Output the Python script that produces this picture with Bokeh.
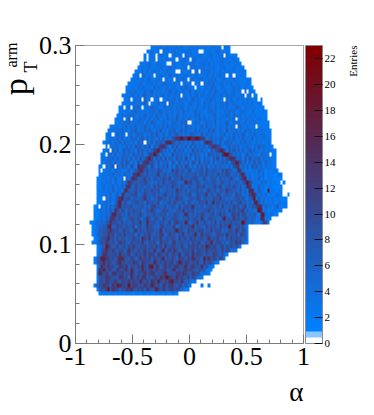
from bokeh.plotting import figure
from bokeh.models import (LinearColorMapper, ColorBar, FixedTicker, Label)
from bokeh.embed import file_html
from bokeh.resources import INLINE
import numpy as np

# ---- tick data
x_ticks = [-1, -0.5, 0, 0.5, 1]
x_labels = ["-1", "-0.5", "0", "0.5", "1"]
x_minor = [-0.9, -0.8, -0.7, -0.6, -0.4, -0.3, -0.2, -0.1, 0.1, 0.2, 0.3, 0.4, 0.6, 0.7, 0.8, 0.9]
y_ticks = [0, 0.1, 0.2, 0.3]
y_labels = ["0", "0.1", "0.2", "0.3"]
y_minor = [0.02, 0.04, 0.06, 0.08, 0.12, 0.14, 0.16, 0.18, 0.22, 0.24, 0.26, 0.28]
z_ticks = [0, 2, 4, 6, 8, 10, 12, 14, 16, 18, 20, 22]
z_max = 23.03

# ---- histogram: 100 x 75 bins, rows listed from the top (row 74) to row 12
row_top = 74
first_bin = [33,31,30,30,28,27,26,25,24,23,22,22,20,21,20,19,19,18,17,17,15,14,13,13,12,13,12,11,11,11,10,10,10,
             9,9,9,9,9,9,9,8,8,8,8,6,7,7,7,8,7,9,9,9,8,8,9,9,9,9,9,8,9,10]
last_bin = [67,69,70,71,72,73,74,74,76,76,77,78,79,81,81,82,83,83,83,84,84,85,85,85,85,86,87,87,87,87,87,88,90,
            90,91,90,90,93,92,92,92,90,88,85,84,75,75,75,75,75,72,70,66,65,62,62,59,58,55,52,50,49,44]
# the upper rows (down to row 44) are typed one count low, these offsets put it back
row_offset = [1] * 31 + [0] * 32
row_counts = [
"2132312423 1324213231 4213214231 21324",
"1232132423 1342213324 1233412321 3422132",
"1223132431 3214232142 3312431234 2132413212 1",
"1322431213 4232132431 2342132413 2213423123 21",
"2123421342 3123241324 2134213342 4132234123 21322",
"1232342132 4213423213 2421342234 1324213342 1232132",
"2123241342 3132423142 3213423514 2341322413 232312132",
"1232431324 1342315234 1324312432 2143241342 3124231321",
"1223142342 1342324132 4235132413 3421342512 3423142312 132",
"1213243142 3241345231 4234132453 1324243512 3413241322 2131",
"2123142432 3152431342 3412435231 4231342534 1243213424 213212",
"1232413242 3514231425 3241342351 4232413425 3124313423 2143212",
"2132342413 5234142351 4324252431 4235143241 5324314234 1324213212",
"1232143425 1342345124 3251432413 5243124352 4132432513 4231423121 2",
"2123243142 5341325243 1452342413 5324315243 1423425134 2314232412 32",
"1232414352 3142534213 5243142531 4232513424 3152342413 2543142323 1212",
"1223143524 2315342451 3425143252 4135243124 5342314253 4123423142 12121",
"2132342514 3253142534 1352415324 3142535241 3245134253 1423424132 321212",
"1223425143 2534152435 1425342613 4253142635 2413524231 4253142342 3123212",
"2132435142 5341526341 3524153426 3514253412 5342614235 3142432513 24221212",
"1223143524 3514263415 2435162534 2516342413 5263415243 2514234531 4232312123",
"1232435142 5361425364 1536241537 2463514262 5341637425 3162435142 5342314232 12",
"1324153426 3514635241 6374253162 4735142653 4172635241 5362415342 6314253243 212",
"2134253614 2635147362 5416372536 4172536418 2536147253 6413526142 5342614324 232",
"1234243516 3425174635 2618473526 1748352617 4352618435 2714635241 5362431424 1232",
"1324351426 3517462538 1647352618 4725361847 2536174852 6314725361 4253142635 2312",
"1243526147 3625184736 2518463725 1846372518 4736251847 3625184736 2514635241 423212",
"2134526143 7251846372 5918463725 1946372518 4735261847 3625184735 2614735241 5342312",
"1324351627 4538162947 3651847293 6518472936 1847263518 4926381745 3618273546 1524212",
"1243526147 3851629374 6185293647 1852936471 8529374618 2537461829 3746152836 4152321",
"2135246173 8462951738 4629518473 9261847396 2518473926 1847352618 4735261847 3514232 1",
"1324352645 2436357656 8a6775b856 64c7a67859 a567694b76 8765a6b874 5635243452 635142332",
"1243536254 3645267859 6a5768d679 5768a69578 67a5896b68 75a697b856 7564635243 5261423 1342",
"2134425364 2536478a67 8b6959767a 86b5796c87 679a856b65 9785a6768b 6457463524 3625142312 12",
"1243535264 3526567869 7a8657496b 768a975668 8c67a95786 79857a6695 6864736253 4263514232 121",
"2135243625 3647685a67 86795b6a87 696c785a75 8766b98a57 68a7c56796 a758463524 3625134212 12",
"1324352634 5247867a68 5976a87b56 79685d7a68 5977a6858b 6795a86c78 7659463725 2634152321 32",
"1243536247 3586789a56 7b867a5968 c7695a8767 9b56a879e6 876a957968 5b78463524 7362514235 32131",
"2134526358 4769a57867 9d68576ba7 85967c8a65 7986ba5977 6a89c67585 79a6952748 3625342523 3121",
"1324635257 4698577a96 85c7968a57 6796b867a5 98576a97d6 857a69785b 679b684736 5826342523 4232",
"1235362748 5a6978b567 89675ac786 6a57985b76 a98e676957 8a6795c768 6b7a58c469 7354263524 83122",
"1326354759 67a8596b87 956a7c8657 a996758a6d 797a586798 b6a579685c 7a6a9c5847 3625241324 232",
"2135463748 7a685a6978 c75968a679 8b576a9768 f9685a7b96 79a58c7a65 9b7c6a8574 9527342531 3",
"1245374869 8a7568b97a 657e968a75 c8679a9658 7b68a96d75 9a7865b879 6c7b68a957 63424232",
"1235465879 6a87b5968a 79d67598a6 79867b5ac8 96a7589e67 a8696c5a79 89b7a68d96 574324223",
"1246578a96 7b986a87c5 9a67d89675 ba6879c56a 87a9f69875 b8a7a6c798 7a68b6953 2",
"1347689a7b 8a69c7859d 6a87b9a678 e5a897b69a 76c8a79ba6 87d6a9b576 a97da6b743 2",
"1257697a8b 69a7c897a5 b86a9d7698 ca57b896a8 e6a79b86c7 a9857b9a6c 7a8c5ba742",
"1368a798a6 b7a9687c8a 59b7f6a98c 67a8b96d78 a5c9a78b69 e7a8b695a7 c8a8a6953",
"1257a8b97a 68c9a76b89 a7e86a9b75 c8a96bd78a 97a6b89c67 a9d78ba695 7a8e9b743",
"1368b9a78c 79a6b8e97a 8b69a7c8a6 f79ba87c96 a9b8c7a96d 8ba79c6a8b 7a62",
"1479ba8c97 ab68d9a7b8 9c7a8f96ab 78c9ea67b9 a8c6ba97d8 a9b86c7a93 52",
"2569c8a9b7 e8a9c67b9a 8d7cb96ea8 9c7ba8f96b a7d8ca96b8 7cb96a5342",
"269a8dc9a7 bf8a97cb6a e9b8d7ca9b g7a8c96dba 7c9fb8a7d9 e8ca7b96",
"27adb9ca78 cf9b7a8dc9 6eb9a8gc7a 9d8bc7a9e8 cb7a9d86e7 b8632",
"37bc9eaa78 dc9f7ba8c9 ha79b8dc6a e9b7cd8a9f 7bc9a8e7a5 32",
"26ad9bc78f a9ce8bc7a9 gb8ac7e9ab d68cf9a7bd 9ca86b8742 1",
"38b9ca7de9 bc8a9hc7ba 9e8bdc7a9c fb8a7cd9eb 87c9a84532",
"37a9ecb8a7 dc9b7ga9c8 ed7a9bc8fa 79cb8e9da8 c6a9532",
"48b9dc8aea 7cb9d8ca9h b8c7eb9da8 c9f7ab8ea6 8532",
"37a9dcb7ea 9gbc8a9ec7 b9da8hc9b7 ea9cd87ba5 842",
"26b9ca8ecb 7a9dcfa8b9 c7ea8bic9d a7bc8a9541 2",
"1223123132 2132212312 3122132213 21321",
]
# dark ridge of the ellipse and isolated hot cells: (row, first bin, counts)
ridge = [
(51,43,"bdfkgcmieikfcb"),(50,39,"cfga"),(50,56,"bgdc"),(49,37,"dgb"),(49,59,"bfdb"),
(48,34,"cdia"),(48,62,"bfgb"),(47,33,"bkd"),(47,64,"djkb"),(46,31,"cia"),(46,67,"cfd"),
(45,30,"dfa"),(45,69,"bid"),(44,28,"ceb"),(44,70,"cd"),(43,27,"bgd"),(43,71,"fc"),
(42,25,"cdhb"),(42,72,"bg"),(41,24,"bgc"),(41,73,"dh"),(40,23,"db"),(40,74,"cjb"),
(39,22,"ce"),(39,75,"gc"),(38,21,"cg"),(38,76,"fh"),(37,20,"eb"),(37,76,"bgf"),
(36,19,"di"),(36,77,"bi"),(35,18,"bh"),(35,78,"fi"),(34,18,"cf"),(34,79,"bgd"),
(33,17,"gb"),(33,80,"kf"),(32,16,"fb"),(32,81,"hj"),(31,15,"ce"),(31,81,"gf"),
(30,15,"fa"),(30,82,"db"),(29,14,"gb"),(28,14,"bf"),(27,14,"ea"),(26,13,"bh"),
(25,13,"eb"),(24,13,"if"),(23,12,"bg"),(22,12,"ed"),(21,12,"hc"),(20,11,"bf"),
(19,11,"gc"),(18,11,"bh"),(17,10,"ie"),(14,55,"2"),(14,58,"2"),
(21,11,"i"),(18,10,"h"),(13,14,"k"),(14,23,"j"),(19,33,"i"),(16,40,"k"),(15,42,"j"),(20,45,"i"),
(26,29,"h"),(29,15,"h"),(32,17,"h"),(18,24,"h"),(21,20,"h"),(15,36,"i"),(30,48,"h"),(30,31,"h"),
(29,67,"j"),(30,73,"k"),(21,56,"i"),(24,57,"h"),(25,59,"i"),(31,65,"i"),(38,84,"i"),(44,27,"h"),
(19,32,"h"),(16,39,"g"),(14,18,"i"),(27,52,"h"),(35,60,"g"),(40,48,"g"),(23,38,"h"),(28,44,"h"),
]
# empty cells inside the outline: (row, bin)
holes = [
(72,31),(71,31),(72,35),(71,35),(73,37),(72,41),(70,40),(70,41),(71,44),(72,47),(69,49),(68,44),(68,45),
(67,28),(67,34),(66,38),(66,43),(66,49),(65,46),(62,46),(61,24),(61,29),(61,33),(61,37),(60,40),(60,32),
(59,24),(59,29),(59,21),(56,21),(56,24),(55,49),(73,54),(73,55),(74,64),(72,65),(71,50),(68,51),(68,54),
(67,66),(67,69),(65,51),(64,52),(65,55),(63,73),(63,75),(62,74),(62,77),(61,65),(61,80),(56,70),(54,70),
(54,79),(55,50),(52,16),(52,22),(50,30),(49,14),(48,15),(47,13),(44,12),(44,17),(43,11),(41,21),(36,12),
(34,10),(47,85),(40,90),(37,91),(37,92),(19,61),
]

DIGITS = "0123456789abcdefghijklmn"
counts = np.zeros((75, 100))
for k, text in enumerate(row_counts):
    r = row_top - k
    cells = [DIGITS.index(c) + row_offset[k] for c in text.replace(" ", "")]
    span = cells[: last_bin[k] - first_bin[k] + 1]
    span[0] = min(span[0], 2)
    span[-1] = min(span[-1], 2)
    counts[r, first_bin[k]: first_bin[k] + len(span)] = span
for r, i0, text in ridge:
    for j, c in enumerate(text):
        counts[r, i0 + j] = DIGITS.index(c)
for r, i in holes:
    counts[r, i] = 0

# ROOT-like palette of 50 contours
blue, maroon = np.array([0, 127, 255]), np.array([128, 0, 0])
palette = ["#ffffff", "#8cc4ff"] + [
    "#%02x%02x%02x" % tuple(int(v) for v in blue + (maroon - blue) * t) for t in np.linspace(0, 1, 48)
]
mapper = LinearColorMapper(palette=palette, low=0, high=z_max)

SERIF = "Liberation Serif"
p = figure(width=372, height=412, frame_width=228, frame_height=298,
           x_range=(-1, 1), y_range=(0, 0.3), output_backend="svg", toolbar_location=None,
           min_border_left=75, min_border_right=69, min_border_top=45, min_border_bottom=69)
p.grid.visible = False
p.outline_line_color = "#8a8a8a"
p.background_fill_color = "white"
p.image(image=[counts], x=-1, y=0, dw=2, dh=0.3, color_mapper=mapper)

for ax, ticks, minor, labels in ((p.xaxis[0], x_ticks, x_minor, x_labels), (p.yaxis[0], y_ticks, y_minor, y_labels)):
    ax.ticker = FixedTicker(ticks=ticks, minor_ticks=minor)
    ax.major_label_overrides = dict(zip(ticks, labels))
    ax.major_tick_in, ax.major_tick_out = 9, 0
    ax.minor_tick_in, ax.minor_tick_out = 4, 0
    ax.axis_line_color = "#7a7a7a"
    ax.major_tick_line_color = "#777777"
    ax.minor_tick_line_color = "#777777"
    ax.major_label_text_font = SERIF
    ax.major_label_text_font_size = "26px"
    ax.major_label_text_color = "#000000"
    ax.major_label_standoff = 4

cb = ColorBar(color_mapper=mapper, ticker=FixedTicker(ticks=z_ticks), width=17, height=298,
              location=(2, 0), padding=0, margin=0, major_tick_in=8, major_tick_out=0,
              major_tick_line_color="#111111", minor_tick_line_color=None,
              bar_line_color="#8a8a8a", border_line_color=None, background_fill_alpha=0,
              major_label_text_font=SERIF, major_label_text_font_size="11px",
              major_label_text_color="#000000", label_standoff=2)
p.add_layout(cb, "right")

def lab(text, x, y, size, angle=0, align="left"):
    p.add_layout(Label(text=text, x=x, y=y, x_units="data", y_units="data", angle=angle, angle_units="deg",
                       text_font=SERIF, text_font_size=size, text_color="#000000", text_align=align,
                       text_baseline="alphabetic"), "below")

lab("\u03b1", 1.0, -0.0493, "27px", 0, "right")
lab("p", -1.53, 0.25, "34px", 90)
lab("T", -1.392, 0.2728, "18px", 90)
lab("arm", -1.561, 0.2778, "16px", 90)
lab("Entries", 1.43, 0.3, "11px", 90, "right")

open("out.html", "w").write(file_html(p, INLINE))
